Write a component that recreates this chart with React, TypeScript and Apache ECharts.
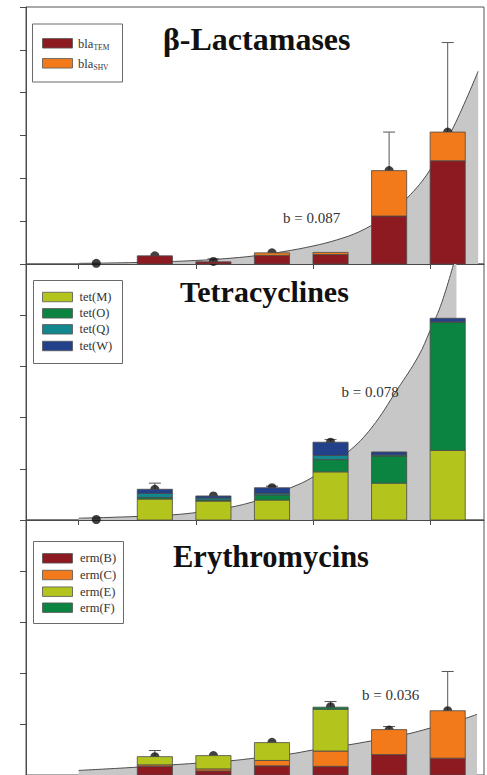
import React, { useEffect, useRef } from "react";
import * as echarts from "echarts";

// ---------- data ----------
const decades = [1940, 1950, 1960, 1970, 1980, 1990, 2000];
const tickYears = [1940, 1960, 1980, 2000];

// Panel 1: beta-lactamases
const blaNames = ["TEM", "SHV"];
const blaTEM = [0, 0.19, 0.05, 0.2, 0.22, 1.12, 2.41];
const blaSHV = [0, 0, 0, 0.06, 0.05, 1.06, 0.67];
const blaMean = [0.015, 0.19, 0.06, 0.26, null, 2.18, 3.08];
const blaErrTop = [null, null, 0.12, null, null, 3.08, 5.17];
const blaFitYears = [1940, 1945, 1950, 1955, 1960, 1965, 1970, 1975, 1980, 1984, 1988, 1992, 1996, 2000, 2004, 2008.2];
const blaFitValues = [0.015, 0.023, 0.035, 0.054, 0.082, 0.125, 0.19, 0.29, 0.42, 0.56, 0.76, 1.08, 1.53, 2.2, 3.2, 4.5];

// Panel 2: tetracyclines
const tetNames = ["tet(M)", "tet(O)", "tet(Q)", "tet(W)"];
const tetM = [0, 0.41, 0.37, 0.39, 0.94, 0.72, 1.36];
const tetO = [0, 0.03, 0.02, 0.1, 0.24, 0.53, 2.5];
const tetQ = [0, 0.08, 0.04, 0.03, 0.08, 0.02, 0.01];
const tetW = [0, 0.08, 0.04, 0.11, 0.26, 0.06, 0.07];
const tetMean = [0.01, 0.6, 0.47, 0.63, 1.52, null, null];
const tetErrTop = [null, 0.72, null, 0.66, 1.57, null, null];
const tetFitYears = [1940, 1945, 1950, 1956, 1961, 1966, 1971, 1976, 1980, 1986, 1990, 1994.4, 1998, 2000, 2002, 2004.5];
const tetFitValues = [0.035, 0.05, 0.07, 0.1, 0.16, 0.25, 0.4, 0.62, 0.84, 1.33, 1.8, 2.55, 3.2, 3.7, 4.25, 5.2];

// Panel 3: erythromycins
const ermNames = ["erm(B)", "erm(C)", "erm(E)", "erm(F)"];
const ermB = [0, 0.17, 0.08, 0.18, 0.17, 0.4, 0.33];
const ermC = [0, 0.03, 0.04, 0.105, 0.3, 0.49, 0.93];
const ermE = [0, 0.16, 0.26, 0.35, 0.82, 0, 0];
const ermF = [0, 0, 0, 0, 0.04, 0, 0];
const ermMean = [null, 0.36, 0.38, 0.64, 1.34, 0.88, 1.26];
const ermErrTop = [null, 0.48, null, null, 1.44, 0.95, 2.03];
const ermFitYears = [1940, 1948, 1956, 1960, 1966, 1970, 1976, 1980, 1986, 1990, 1996, 2000, 2006, 2008];
const ermFitValues = [0.09, 0.14, 0.2, 0.23, 0.28, 0.33, 0.41, 0.49, 0.59, 0.67, 0.8, 0.92, 1.11, 1.19];

const panelTitles = ["β-Lactamases", "Tetracyclines", "Erythromycins"];
const fitLabels = ["b = 0.087", "b = 0.078", "b = 0.036"];
const yMax = [6, 5, 5];

// ---------- styles ----------
const C = {
  red: "#8d1a21",
  orange: "#f27a1b",
  lime: "#b3c41c",
  green: "#0b8441",
  teal: "#12878d",
  navy: "#23418a",
  fill: "#c7c7c7",
  curve: "#4d4d4d",
  axis: "#4a4a4a",
};
const SERIF = "'Liberation Serif', 'Times New Roman', serif";
const BAR_YEARS = 6; // bar width in axis units (years)

const barMid = decades.map((d) => d + BAR_YEARS / 2);

// stacked bars drawn through the axes' own scales
function stackedBars(layers: { name: string; values: number[]; color: string }[], g: number) {
  const base = decades.map(() => 0);
  return layers.map((layer) => {
    const data = barMid.map((x, i) => {
      const lo = base[i];
      const hi = lo + layer.values[i];
      base[i] = hi;
      return [x, lo, hi];
    });
    return {
      name: layer.name,
      type: "custom",
      xAxisIndex: g,
      yAxisIndex: g,
      z: 3,
      clip: true,
      encode: { x: 0, y: [1, 2] },
      renderItem: (_p: any, api: any) => {
        const x = api.value(0);
        const lo = api.value(1);
        const hi = api.value(2);
        if (!(hi > lo)) return null;
        const a = api.coord([x - BAR_YEARS / 2, lo]);
        const b = api.coord([x + BAR_YEARS / 2, hi]);
        return {
          type: "rect",
          shape: { x: a[0], y: b[1], width: b[0] - a[0], height: a[1] - b[1] },
          style: { fill: layer.color, stroke: "#4a4a4a", lineWidth: 0.8 },
        };
      },
      data,
    };
  });
}

function fitSeries(years: number[], vals: number[], g: number) {
  return {
    type: "line",
    xAxisIndex: g,
    yAxisIndex: g,
    smooth: 0.4,
    symbol: "none",
    z: 1,
    lineStyle: { color: C.curve, width: 1 },
    areaStyle: { color: C.fill, opacity: 1 },
    data: years.map((y, i) => [y, vals[i]]),
  };
}

function meanSeries(means: (number | null)[], g: number) {
  return {
    type: "scatter",
    xAxisIndex: g,
    yAxisIndex: g,
    symbolSize: 9,
    z: 2,
    itemStyle: { color: "#111" },
    data: barMid
      .map((x, i) => (means[i] == null ? null : [x, means[i]]))
      .filter((d) => d !== null),
  };
}

function errSeries(means: (number | null)[], tops: (number | null)[], g: number) {
  return {
    type: "custom",
    xAxisIndex: g,
    yAxisIndex: g,
    z: 2,
    encode: { x: 0, y: [1, 2] },
    renderItem: (_p: any, api: any) => {
      const x = api.value(0);
      const p0 = api.coord([x, api.value(1)]);
      const p1 = api.coord([x, api.value(2)]);
      const st = { stroke: "#555", lineWidth: 1 };
      return {
        type: "group",
        children: [
          { type: "line", shape: { x1: p0[0], y1: p0[1], x2: p1[0], y2: p1[1] }, style: st },
          { type: "line", shape: { x1: p1[0] - 6, y1: p1[1], x2: p1[0] + 6, y2: p1[1] }, style: st },
        ],
      };
    },
    data: barMid
      .map((x, i) => (tops[i] == null ? null : [x, means[i] ?? 0, tops[i]]))
      .filter((d) => d !== null),
  };
}

function legendBox(
  x: number, y: number, w: number, h: number,
  rows: { color: string; cy: number; label: string; sub?: string }[],
  textX: number, fs: number
) {
  const children: any[] = [
    { type: "rect", shape: { x, y, width: w, height: h }, style: { fill: "#fff", stroke: "#6a6a6a", lineWidth: 1 } },
  ];
  rows.forEach((r) => {
    children.push({
      type: "rect",
      shape: { x: 42.5, y: r.cy - 4.75, width: 30, height: 9.5 },
      style: { fill: r.color, stroke: "#555", lineWidth: 0.8 },
    });
    children.push({
      type: "text",
      x: textX,
      y: r.cy + (r.sub ? 0.5 : 0),
      style: { text: r.label, fontFamily: SERIF, fontSize: fs, fill: "#333", verticalAlign: "middle", align: "left" },
    });
    if (r.sub) {
      children.push({
        type: "text",
        x: textX + 15.5,
        y: r.cy + 4,
        style: { text: r.sub, fontFamily: SERIF, fontSize: 7.5, fill: "#333", verticalAlign: "middle", align: "left" },
      });
    }
  });
  return { type: "group", children };
}

export default function App() {
  const ref = useRef<HTMLDivElement>(null);

  useEffect(() => {
    if (!ref.current) return;
    const chart = echarts.init(ref.current, undefined, { renderer: "svg" });

    const gridTops = [7, 264, 520];
    const gridHeights = [257, 256, 257];

    const grids = gridTops.map((t, i) => ({
      left: 26,
      top: t,
      width: 458,
      height: gridHeights[i],
      show: true,
      borderColor: "#555",
      borderWidth: 1,
      backgroundColor: "transparent",
    }));

    const xAxes = [0, 1, 2].map((g) => ({
      type: "value",
      gridIndex: g,
      min: 1931,
      max: 2009.2,
      axisLine: { show: true, lineStyle: { color: C.axis, width: 1 } },
      axisTick: { show: true, customValues: tickYears, length: 5, lineStyle: { color: C.axis } },
      axisLabel: { show: false },
      splitLine: { show: false },
    }));

    const yAxes = [0, 1, 2].map((g) => ({
      type: "value",
      gridIndex: g,
      min: 0,
      max: yMax[g],
      interval: 1,
      axisLine: { show: true, lineStyle: { color: C.axis, width: 1 } },
      axisTick: { show: true, length: 6, lineStyle: { color: C.axis } },
      axisLabel: { show: false },
      splitLine: { show: false },
    }));

    const series: any[] = [
      fitSeries(blaFitYears, blaFitValues, 0),
      errSeries(blaMean, blaErrTop, 0),
      meanSeries(blaMean, 0),
      ...stackedBars([
        { name: "bla" + blaNames[0], values: blaTEM, color: C.red },
        { name: "bla" + blaNames[1], values: blaSHV, color: C.orange },
      ], 0),

      fitSeries(tetFitYears, tetFitValues, 1),
      errSeries(tetMean, tetErrTop, 1),
      meanSeries(tetMean, 1),
      ...stackedBars([
        { name: tetNames[0], values: tetM, color: C.lime },
        { name: tetNames[1], values: tetO, color: C.green },
        { name: tetNames[2], values: tetQ, color: C.teal },
        { name: tetNames[3], values: tetW, color: C.navy },
      ], 1),

      fitSeries(ermFitYears, ermFitValues, 2),
      errSeries(ermMean, ermErrTop, 2),
      meanSeries(ermMean, 2),
      ...stackedBars([
        { name: ermNames[0], values: ermB, color: C.red },
        { name: ermNames[1], values: ermC, color: C.orange },
        { name: ermNames[2], values: ermE, color: C.lime },
        { name: ermNames[3], values: ermF, color: C.green },
      ], 2),
    ];

    const titleStyle = (text: string, fs: number) => ({
      text,
      fontFamily: SERIF,
      fontWeight: "bold",
      fontSize: fs,
      fill: "#111",
      verticalAlign: "middle",
      align: "left",
    });
    const fitStyle = (text: string) => ({
      text,
      fontFamily: SERIF,
      fontSize: 15,
      fill: "#333",
      verticalAlign: "middle",
      align: "left",
    });

    const graphic: any[] = [
      { type: "text", x: 163, y: 39, z: 10, style: titleStyle(panelTitles[0], 32) },
      { type: "text", x: 180, y: 291.5, z: 10, style: titleStyle(panelTitles[1], 30) },
      { type: "text", x: 173, y: 556.5, z: 10, style: titleStyle(panelTitles[2], 30.5) },
      { type: "text", x: 283, y: 218, z: 10, style: fitStyle(fitLabels[0]) },
      { type: "text", x: 341.5, y: 391.7, z: 10, style: fitStyle(fitLabels[1]) },
      { type: "text", x: 362, y: 695, z: 10, style: fitStyle(fitLabels[2]) },
      legendBox(32.5, 24, 90, 58, [
        { color: C.red, cy: 43.3, label: "bla", sub: blaNames[0] },
        { color: C.orange, cy: 63.3, label: "bla", sub: blaNames[1] },
      ], 78, 12.5),
      legendBox(33.5, 280.5, 89, 83, [
        { color: C.lime, cy: 297, label: tetNames[0] },
        { color: C.green, cy: 313.3, label: tetNames[1] },
        { color: C.teal, cy: 329.3, label: tetNames[2] },
        { color: C.navy, cy: 346, label: tetNames[3] },
      ], 79.5, 12.5),
      legendBox(33.5, 541.5, 90, 82, [
        { color: C.red, cy: 558.3, label: ermNames[0] },
        { color: C.orange, cy: 575, label: ermNames[1] },
        { color: C.lime, cy: 591.7, label: ermNames[2] },
        { color: C.green, cy: 607.7, label: ermNames[3] },
      ], 80, 12.5),
    ];

    chart.setOption({
      animation: false,
      backgroundColor: "#fff",
      grid: grids,
      xAxis: xAxes,
      yAxis: yAxes,
      series,
      graphic,
    });

    return () => chart.dispose();
  }, []);

  return (
    <div
      ref={ref}
      style={{ position: "absolute", left: 0, top: 0, width: 487, height: 775, overflow: "hidden" }}
    />
  );
}
